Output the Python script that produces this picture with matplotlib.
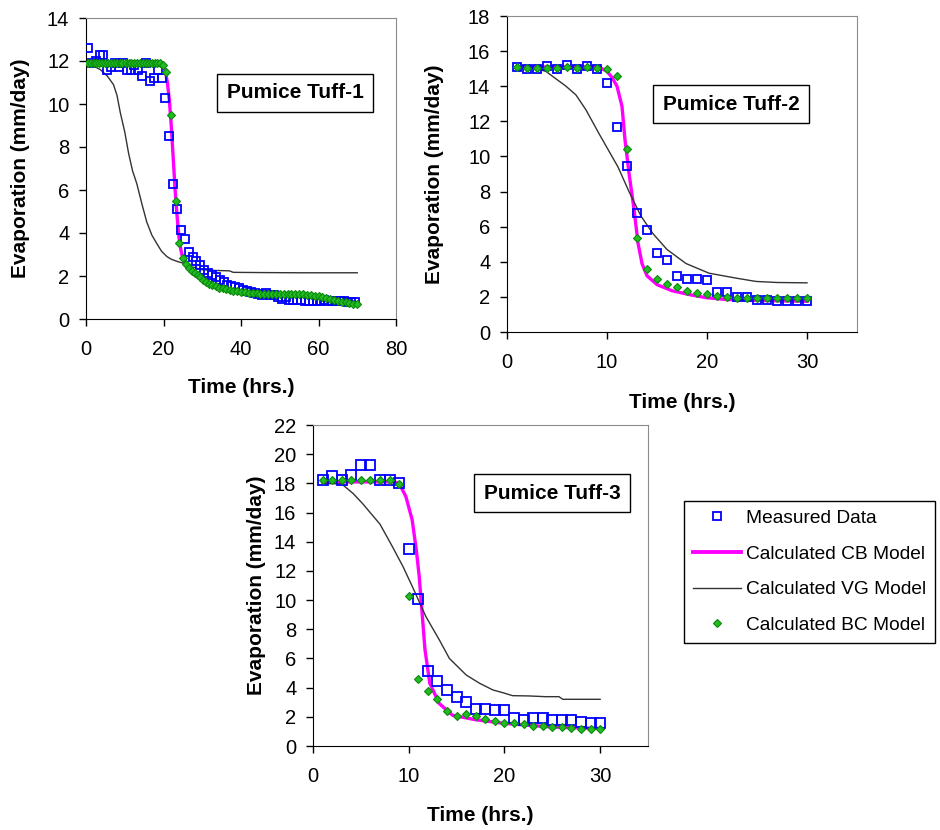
import matplotlib
matplotlib.use("Agg")
import matplotlib.pyplot as plt
from matplotlib.lines import Line2D

plt.rcParams['font.family'] = ['Liberation Sans', 'DejaVu Sans']

# ---- Pumice Tuff-1 ----
meas_t1 = [0.5, 1.5, 2.5, 3.5, 4.5, 5.5, 6.5, 7.5, 8.5, 9.5, 10.5, 11.5, 12.5, 13.5,
           14.5, 15.5, 16.5, 17.5, 18.5, 19.5, 20.5, 21.5, 22.5, 23.5, 24.5, 25.5,
           26.5, 27.5, 28.5, 29.5, 30.5, 31.5, 32.5, 33.5, 34.5, 35.5, 36.5, 37.5,
           38.5, 39.5, 40.5, 41.5, 42.5, 43.5, 44.5, 45.5, 46.5, 47.5, 48.5, 49.5,
           50.5, 51.5, 52.5, 53.5, 54.5, 55.5, 56.5, 57.5, 58.5, 59.5, 60.5, 61.5,
           62.5, 63.5, 64.5, 65.5, 66.5, 67.5, 68.5, 69.5]
meas_e1 = [12.6, 11.9, 12.0, 12.3, 12.3, 11.6, 11.7, 11.9, 11.7, 11.9, 11.6, 11.6, 11.8, 11.6,
           11.3, 11.9, 11.05, 11.2, 11.6, 11.2, 10.26, 8.5, 6.28, 5.13, 4.15, 3.72,
           3.1, 2.9, 2.7, 2.5, 2.3, 2.15, 2.05, 1.95, 1.8, 1.7, 1.6, 1.55,
           1.5, 1.45, 1.35, 1.3, 1.25, 1.2, 1.15, 1.1, 1.2, 1.1, 1.1, 1.0,
           0.95, 1.0, 0.9, 0.9, 0.9, 0.9, 0.85, 0.85, 0.85, 0.85, 0.85, 0.9,
           0.85, 0.85, 0.85, 0.85, 0.85, 0.8, 0.8, 0.8]
bc_t1 = [0.5, 1.2, 2, 2.7, 3.4, 4.2, 5, 5.7, 6.4, 7.2, 8, 8.7, 9.4, 10.2, 11, 11.7,
         12.4, 13.2, 14, 14.7, 15.4, 16.2, 17, 17.7, 18.4, 19.2, 19.8, 20.7, 22.0,
         23.3, 24.1, 25.0, 25.7, 26.6, 27.3, 28.1, 28.8, 29.5, 30.3, 31.0, 31.8, 32.6,
         33.5, 34.4, 35.3, 36.2, 37.1, 38, 39, 40, 41, 42, 43, 44, 45, 46, 47, 48, 49,
         50, 51, 52, 53, 54, 55, 56, 57, 58, 59, 60, 61, 62, 63, 64, 65, 66, 67, 68,
         69, 70]
bc_e1 = [11.9, 11.9, 11.9, 11.9, 11.9, 11.9, 11.9, 11.9, 11.9, 11.9, 11.9, 11.9, 11.9,
         11.9, 11.9, 11.9, 11.9, 11.9, 11.9, 11.9, 11.9, 11.9, 11.9, 11.9, 11.9, 11.9,
         11.8, 11.5, 9.5, 5.5, 3.55, 2.85, 2.55, 2.35, 2.25, 2.15, 2.05, 1.95, 1.8, 1.7,
         1.65, 1.6, 1.55, 1.45, 1.42, 1.38, 1.35, 1.32, 1.28, 1.25, 1.25, 1.22, 1.2, 1.2,
         1.18, 1.18, 1.18, 1.18, 1.17, 1.17, 1.17, 1.16, 1.16, 1.16, 1.15, 1.15, 1.13,
         1.1, 1.07, 1.05, 1.02, 0.98, 0.93, 0.88, 0.84, 0.8, 0.77, 0.73, 0.7, 0.68]
cb_t1 = [0.5, 5, 10, 15, 19, 20, 20.5, 21, 21.5, 22, 22.5, 23, 23.5, 24, 24.5, 25, 26,
         27, 28, 30, 32, 35, 40, 45, 50, 55, 60, 65, 70]
cb_e1 = [11.9, 11.9, 11.9, 11.9, 11.85, 11.75, 11.5, 11.0, 10.2, 9.0, 7.5, 6.0, 4.8,
         3.8, 3.2, 2.8, 2.4, 2.2, 2.05, 1.8, 1.6, 1.45, 1.25, 1.18, 1.15, 1.1, 1.0,
         0.85, 0.72]
vg_t1 = [0.5, 3.7, 5.5, 7.1, 8.0, 8.85, 10, 11, 12, 13.1, 14.5, 15.7, 17, 18.3, 19.5,
         20.9, 22, 23.5, 25, 26, 28, 29.5, 31, 33, 37, 38, 45, 55, 70]
vg_e1 = [11.9, 11.6, 11.3, 10.9, 10.4, 9.6, 8.7, 7.7, 6.9, 6.3, 5.3, 4.5, 3.9, 3.5,
         3.15, 2.9, 2.78, 2.68, 2.6, 2.45, 2.4, 2.3, 2.28, 2.26, 2.24, 2.17, 2.16,
         2.15, 2.15]

# ---- Pumice Tuff-2 ----
hours = [1, 2, 3, 4, 5, 6, 7, 8, 9, 10, 11, 12, 13, 14, 15, 16, 17, 18, 19, 20,
         21, 22, 23, 24, 25, 26, 27, 28, 29, 30]
meas_e2 = [15.1, 15.0, 15.0, 15.15, 15.0, 15.2, 15.0, 15.15, 15.0, 14.2, 11.65, 9.43,
           6.8, 5.83, 4.5, 4.12, 3.17, 3.0, 3.0, 2.98, 2.28, 2.28, 1.97, 1.97, 1.85,
           1.85, 1.75, 1.75, 1.75, 1.75]
bc_e2 = [15.1, 15.05, 15.05, 15.05, 15.05, 15.1, 15.05, 15.1, 15.05, 14.97, 14.57,
         10.44, 5.33, 3.59, 3.02, 2.73, 2.56, 2.35, 2.22, 2.14, 2.05, 2.0, 1.95, 1.93,
         1.92, 1.92, 1.92, 1.92, 1.92, 1.92]
cb_t2 = [1, 5, 9, 9.5, 10, 10.5, 11, 11.5, 11.8, 12.2, 12.7, 13.1, 13.5, 14, 15, 16.5,
         18.5, 20, 22, 25, 30]
cb_e2 = [15.1, 15.1, 15.1, 15.0, 14.85, 14.5, 14.0, 12.85, 10.95, 9.05, 7.0, 5.07,
         3.9, 3.2, 2.7, 2.35, 2.1, 1.95, 1.85, 1.8, 1.75]
vg_t2 = [1, 3, 3.9, 5.9, 6.9, 7.9, 9.2, 11.1, 12.2, 13.4, 14.6, 16, 17.9, 20.2, 22.9,
         24.9, 27, 30]
vg_e2 = [15.1, 15.0, 14.84, 14.0, 13.5, 12.65, 11.3, 9.4, 8.0, 6.6, 5.6, 4.7, 3.9,
         3.35, 3.07, 2.88, 2.82, 2.8]

# ---- Pumice Tuff-3 ----
meas_e3 = [18.23, 18.5, 18.23, 18.55, 19.26, 19.26, 18.23, 18.23, 18.0, 13.48, 10.1,
           5.16, 4.48, 3.84, 3.38, 3.04, 2.56, 2.56, 2.47, 2.47, 1.9, 1.78, 1.9, 1.9,
           1.78, 1.78, 1.78, 1.62, 1.55, 1.55]
bc_e3 = [18.2, 18.2, 18.2, 18.2, 18.2, 18.2, 18.2, 18.2, 17.96, 10.28, 4.6, 3.8, 3.2,
         2.4, 2.08, 2.2, 2.08, 1.83, 1.69, 1.6, 1.6, 1.5, 1.39, 1.39, 1.28, 1.28, 1.26,
         1.14, 1.14, 1.14]
cb_t3 = [1, 5, 8.5, 9, 9.7, 10.36, 10.8, 11.1, 11.4, 11.7, 12.2, 13.2, 14.6, 17, 20,
         25, 30]
cb_e3 = [18.1, 18.1, 18.1, 18.0, 17.1, 15.5, 13.4, 11.6, 9.1, 6.6, 4.3, 2.9, 2.1, 1.8,
         1.55, 1.3, 1.2]
vg_t3 = [1, 3, 4.2, 5.2, 7, 8.3, 9.4, 10.4, 11.8, 13.2, 14.25, 16, 17.4, 18.8, 19.8,
         20.85, 22.6, 24.3, 25.7, 26.1, 30]
vg_e3 = [18.0, 17.96, 17.3, 16.6, 15.2, 13.66, 12.3, 10.9, 8.86, 7.27, 6.0, 4.87, 4.3,
         3.84, 3.66, 3.45, 3.43, 3.38, 3.38, 3.2, 3.2]

W, H = 940, 830
fig = plt.figure(figsize=(W / 100, H / 100), dpi=100)


def px_axes(left, top, right, bottom):
    return fig.add_axes([left / W, 1 - bottom / H, (right - left) / W, (bottom - top) / H])


def draw_panel(ax, mt, me, bt, be, ct, ce, vt, ve, xlim, xticks, ylim, yticks,
               title, box_xy, sq, ylab_x, xlab_y):
    ax.plot(ct, ce, color='#ff00ff', lw=2.4, zorder=2)
    ax.plot(vt, ve, color='#333333', lw=1.0, zorder=2)
    ax.plot(mt, me, ls='none', marker='s', ms=sq, mfc='none', mec='#0000ff',
            mew=1.3, zorder=3)
    ax.plot(bt, be, ls='none', marker='D', ms=3.6, mfc='#22bb22', mec='#0a8a0a',
            mew=0.8, zorder=4)
    ax.set_xlim(*xlim)
    ax.set_ylim(*ylim)
    ax.set_xticks(xticks)
    ax.set_yticks(yticks)
    ax.tick_params(direction='out', length=5, width=1, labelsize=14.5,
                   top=False, right=False)
    ax.tick_params(axis='y', pad=7)
    ax.tick_params(axis='x', pad=10)
    for s in ('top', 'right'):
        ax.spines[s].set_color('#8c8c8c')
    for s in ('left', 'bottom'):
        ax.spines[s].set_color('black')
    xl = ax.set_xlabel('Time (hrs.)', fontsize=15, fontweight='bold')
    yl = ax.set_ylabel('Evaporation (mm/day)', fontsize=15, fontweight='bold')
    xl.set_va('center')
    yl.set_va('center')
    ax.xaxis.set_label_coords(0.5, xlab_y)
    ax.yaxis.set_label_coords(ylab_x, 0.5)
    ax.text(box_xy[0], box_xy[1], title, transform=ax.transAxes, fontsize=15,
            fontweight='bold', ha='center', va='center',
            bbox=dict(boxstyle='square,pad=0.45', fc='white', ec='black', lw=1.0))


ax1 = px_axes(86, 18, 396, 319)
draw_panel(ax1, meas_t1, meas_e1, bc_t1, bc_e1, cb_t1, cb_e1, vg_t1, vg_e1,
           (0, 80), [0, 20, 40, 60, 80], (0, 14), range(0, 15, 2),
           'Pumice Tuff-1', ((295 - 86) / 310, (319 - 93) / 301), 5.6,
           (20 - 86) / 310, -(387 - 319) / 301)

ax2 = px_axes(507, 16, 857, 332)
draw_panel(ax2, hours, meas_e2, hours, bc_e2, cb_t2, cb_e2, vg_t2, vg_e2,
           (0, 35), [0, 10, 20, 30], (0, 18), range(0, 19, 2),
           'Pumice Tuff-2', ((731 - 507) / 350, (332 - 104) / 316), 6.2,
           (435 - 507) / 350, -(402 - 332) / 316)

ax3 = px_axes(313, 425, 648, 746)
draw_panel(ax3, hours, meas_e3, hours, bc_e3, cb_t3, cb_e3, vg_t3, vg_e3,
           (0, 35), [0, 10, 20, 30], (0, 22), range(0, 23, 2),
           'Pumice Tuff-3', ((552 - 313) / 335, (746 - 493) / 321), 6.6,
           (257 - 313) / 335, -(815 - 746) / 321)

handles = [
    Line2D([], [], ls='none', marker='s', ms=6, mfc='none', mec='#0000ff', mew=1.3),
    Line2D([], [], color='#ff00ff', lw=2.8),
    Line2D([], [], color='#333333', lw=1.0),
    Line2D([], [], ls='none', marker='D', ms=4, mfc='#22bb22', mec='#0a8a0a', mew=0.8),
]
labels = ['Measured Data', 'Calculated CB Model', 'Calculated VG Model',
          'Calculated BC Model']
leg = fig.legend(handles, labels, loc='upper left',
                 bbox_to_anchor=(684 / W, 1 - 501 / H), fontsize=13.8,
                 frameon=True, fancybox=False, edgecolor='black', framealpha=1,
                 handlelength=2.5, handletextpad=0.3, labelspacing=0.95,
                 borderpad=0.45, borderaxespad=0)
leg.get_frame().set_linewidth(1.0)

fig.savefig('out.png', dpi=100, facecolor='white')
